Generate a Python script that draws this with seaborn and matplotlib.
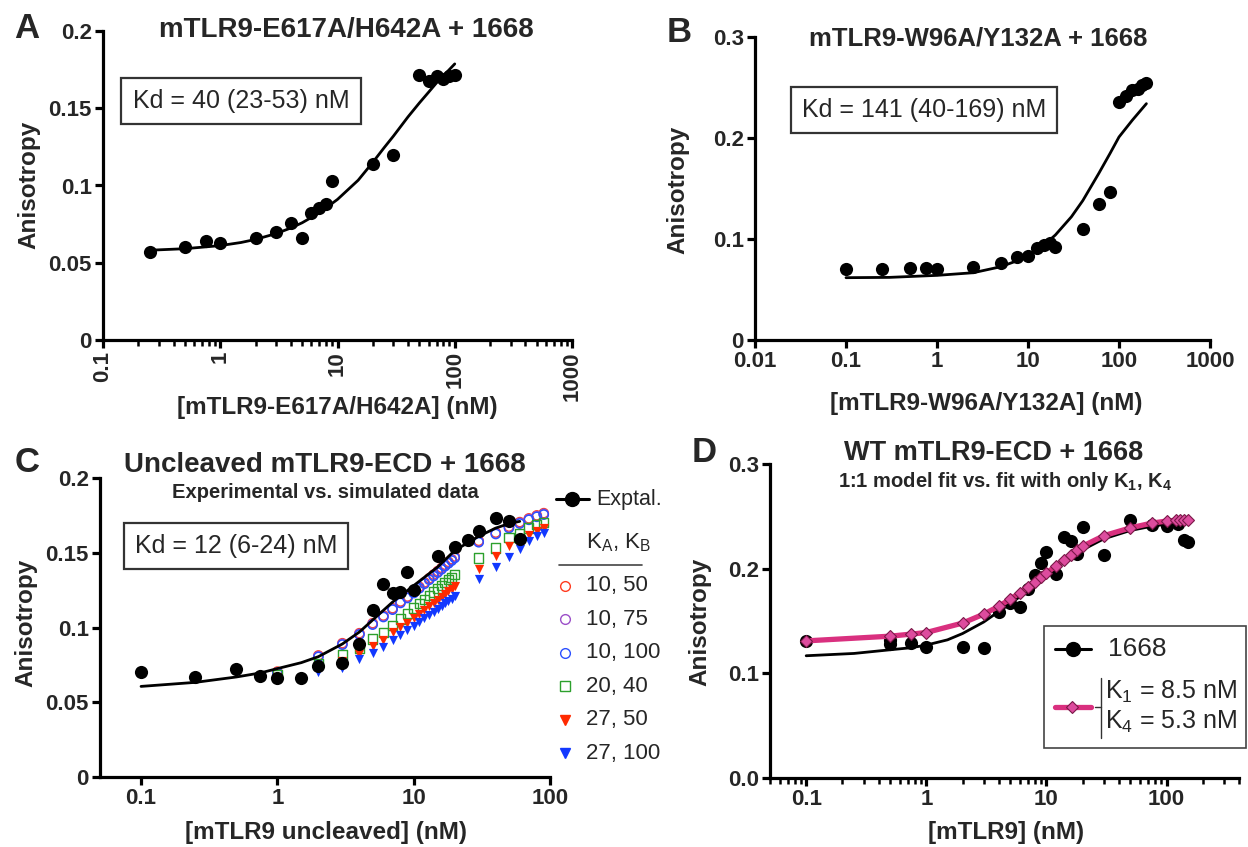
import matplotlib
matplotlib.use("Agg")

import matplotlib.pyplot as plt
from matplotlib.lines import Line2D
from matplotlib.patches import Rectangle
from matplotlib.ticker import LogLocator, NullFormatter, NullLocator
import seaborn as sns

sns.set_theme(style="ticks")
plt.rcParams["font.family"] = ["Liberation Sans", "DejaVu Sans"]
plt.rcParams["mathtext.fontset"] = "custom"
plt.rcParams["mathtext.rm"] = "Liberation Sans"
plt.rcParams["mathtext.it"] = "Liberation Sans:italic"
plt.rcParams["mathtext.bf"] = "Liberation Sans:bold"

# ---- panel A: mTLR9-E617A/H642A ----
a_conc = [0.25, 0.5, 0.75, 1, 2, 3, 4, 5, 6, 7, 8, 9, 20, 30,
          50, 60, 70, 80, 90, 100]
a_aniso = [0.057, 0.060, 0.064, 0.063, 0.066, 0.070, 0.0757, 0.066, 0.082,
           0.0854, 0.088, 0.1026, 0.1138, 0.120,
           0.1713, 0.1674, 0.171, 0.169, 0.1706, 0.1717]
a_fit_x = [0.25, 0.5, 1, 1.5, 2, 3, 4, 5, 7, 10, 15, 20, 25, 30, 40, 50,
           60, 70, 80, 100]
a_fit_y = [0.0581, 0.0591, 0.0611, 0.0631, 0.0651, 0.0689, 0.0725, 0.0759,
           0.0823, 0.091, 0.1034, 0.115, 0.1245, 0.132, 0.1445, 0.1535,
           0.1605, 0.1665, 0.171, 0.1787]

# ---- panel B: mTLR9-W96A/Y132A ----
b_conc = [0.1, 0.25, 0.5, 0.75, 1, 2.5, 5, 7.5, 10, 12.5, 15, 17.5, 20,
          40, 60, 80, 100, 120, 140, 160, 180, 200]
b_aniso = [0.070, 0.070, 0.0709, 0.071, 0.070, 0.0719, 0.0758, 0.0818,
           0.0834, 0.0907, 0.094, 0.096, 0.0917, 0.110, 0.135, 0.1467,
           0.2357, 0.2413, 0.248, 0.249, 0.2522, 0.254]
b_fit_x = [0.1, 0.3, 1, 2.5, 5, 10, 15, 20, 30, 40, 60, 80, 100, 140, 200]
b_fit_y = [0.0617, 0.062, 0.064, 0.0666, 0.0725, 0.0824, 0.094, 0.104,
           0.122, 0.138, 0.165, 0.185, 0.201, 0.2176, 0.234]

# ---- panel C: uncleaved mTLR9-ECD, experimental + simulated ----
c_conc = [0.1, 0.25, 0.5, 0.75, 1, 1.5, 2, 3, 4, 5, 6, 7, 8, 9, 10, 15,
          20, 25, 30, 40, 50, 60]
c_aniso = [0.0702, 0.0669, 0.0725, 0.0673, 0.0662, 0.0662, 0.074, 0.0763,
           0.0892, 0.1114, 0.129, 0.123, 0.124, 0.1369, 0.1253, 0.148,
           0.1538, 0.1588, 0.1643, 0.1732, 0.171, 0.1592]
c_fit_x = [0.1, 0.25, 0.5, 0.75, 1, 1.5, 2, 3, 4, 5, 7, 10, 15, 20, 30,
           40, 50, 60]
c_fit_y = [0.0606, 0.0633, 0.0669, 0.0696, 0.0725, 0.0765, 0.0805, 0.089,
           0.097, 0.105, 0.117, 0.128, 0.1405, 0.1515, 0.161, 0.1665,
           0.1695, 0.171]

sim_conc = [1, 2, 3, 4, 5, 6, 7, 8, 9, 10, 11, 12, 13, 14, 15, 16, 17, 18,
            19, 20, 30, 40, 50, 60, 70, 80, 90]
sim_10_50 = [0.0705, 0.0813, 0.0895, 0.0962, 0.1029, 0.108, 0.1129, 0.1174,
             0.1207, 0.124, 0.1272, 0.1302, 0.1329, 0.1354, 0.1377, 0.1399,
             0.142, 0.1439, 0.1457, 0.1475, 0.158, 0.1635, 0.1675, 0.1705,
             0.173, 0.175, 0.1765]
sim_10_75 = [0.07, 0.0808, 0.089, 0.0957, 0.1024, 0.1075, 0.1124, 0.1169,
             0.1202, 0.1235, 0.1267, 0.1297, 0.1324, 0.1349, 0.1372, 0.1394,
             0.1415, 0.1434, 0.1452, 0.147, 0.1575, 0.163, 0.167, 0.17,
             0.1725, 0.1745, 0.176]
sim_10_100 = [0.0695, 0.0803, 0.0885, 0.0952, 0.1019, 0.107, 0.1119, 0.1164,
              0.1197, 0.123, 0.1262, 0.1292, 0.1319, 0.1344, 0.1367, 0.1389,
              0.141, 0.1429, 0.1447, 0.1465, 0.157, 0.1625, 0.1665, 0.1695,
              0.172, 0.174, 0.1755]
sim_20_40 = [0.0684, 0.0757, 0.0818, 0.0863, 0.0923, 0.0967, 0.1012, 0.1057,
             0.1092, 0.113, 0.1161, 0.1189, 0.1214, 0.1238, 0.126, 0.1281,
             0.130, 0.1319, 0.1336, 0.1353, 0.1465, 0.1532, 0.160, 0.163,
             0.1666, 0.1688, 0.170]
sim_27_50 = [0.067, 0.0725, 0.0775, 0.0825, 0.0878, 0.0918, 0.0967, 0.1003,
             0.103, 0.1063, 0.1092, 0.1119, 0.1143, 0.1166, 0.1187, 0.1207,
             0.1225, 0.1243, 0.1259, 0.1275, 0.139, 0.1476, 0.1543, 0.158,
             0.162, 0.1643, 0.1665]
sim_27_100 = [0.066, 0.070, 0.073, 0.079, 0.0829, 0.087, 0.0918, 0.0952,
              0.0985, 0.1012, 0.1039, 0.1064, 0.1086, 0.1107, 0.1127, 0.1145,
              0.1162, 0.1178, 0.1193, 0.1208, 0.1324, 0.1405, 0.1472, 0.1525,
              0.1576, 0.161, 0.1632]
sim_labels = ["10, 50", "10, 75", "10, 100", "20, 40", "27, 50", "27, 100"]
sim_colors = ["#ff3b1f", "#9b4fc8", "#2b50ff", "#2ca02c", "#ff2a00", "#1238ff"]
sim_markers = ["o", "o", "o", "s", "v", "v"]
sim_hollow = [True, True, True, True, False, False]

# ---- panel D: WT mTLR9-ECD ----
d_conc = [0.1, 0.5, 0.5, 0.75, 1, 2, 3, 4, 5, 6, 7, 8, 9, 10, 12, 14, 16,
          18, 20, 30, 50, 75, 100, 125, 140, 150]
d_aniso = [0.1306, 0.132, 0.1285, 0.129, 0.1252, 0.1252, 0.1242, 0.1586,
           0.1672, 0.1634, 0.1806, 0.1942, 0.2054, 0.2156, 0.1952, 0.2303,
           0.2261, 0.2143, 0.2395, 0.2134, 0.2462, 0.242, 0.2404, 0.243,
           0.2277, 0.2251]
d_fit_x = [0.1, 0.25, 0.5, 0.75, 1, 1.5, 2, 3, 4, 5, 7, 10, 15, 20, 30, 50,
           75, 100, 150]
d_fit_y = [0.1168, 0.119, 0.1225, 0.1245, 0.127, 0.132, 0.138, 0.149, 0.159,
           0.1665, 0.179, 0.1935, 0.2085, 0.218, 0.2285, 0.2365, 0.2405,
           0.2425, 0.244]
k_conc = [0.1, 0.5, 0.75, 1, 2, 3, 4, 5, 6, 7, 8, 9, 10, 12, 14, 16, 18, 20,
          30, 50, 75, 100, 120, 130, 140, 150]
k_aniso = [0.131, 0.1355, 0.1375, 0.139, 0.148, 0.1565, 0.164, 0.171, 0.177,
           0.1825, 0.1875, 0.192, 0.196, 0.2025, 0.2085, 0.2135, 0.2175,
           0.2215, 0.2315, 0.239, 0.2435, 0.2455, 0.2462, 0.2465, 0.2467,
           0.2468]

PINK = "#d9307f"
DOT = 90
W, H = 1248, 847
fig = plt.figure(figsize=(W / 100, H / 100), dpi=100)


def rect(l, t, r, b):
    return [l / W, 1 - b / H, (r - l) / W, (b - t) / H]


def put(x, y, s, **kw):
    kw.setdefault("ha", "center")
    kw.setdefault("va", "center")
    return fig.text(x / W, 1 - y / H, s, **kw)


def key(xs, y, **kw):
    fig.add_artist(Line2D([x / W for x in xs], [1 - y / H] * len(xs),
                          transform=fig.transFigure, **kw))


def style(ax, xlim, xticks, xlabels, ylim, yticks, ylabels, minor=False, rot=0):
    ax.set_xscale("log")
    ax.set_xlim(*xlim)
    ax.set_ylim(*ylim)
    ax.set_xticks(xticks, labels=xlabels, rotation=rot, fontweight="bold", fontsize=16)
    ax.set_yticks(yticks, labels=ylabels, fontweight="bold", fontsize=16)
    if minor:
        ax.xaxis.set_minor_locator(LogLocator(base=10, subs=range(2, 10), numticks=30))
        ax.xaxis.set_minor_formatter(NullFormatter())
    else:
        ax.xaxis.set_minor_locator(NullLocator())
    ax.yaxis.set_minor_locator(NullLocator())
    sns.despine(ax=ax)
    for sp in ("left", "bottom"):
        ax.spines[sp].set_linewidth(2.3)
        ax.spines[sp].set_color("black")
    ax.tick_params(which="major", length=6, width=2.3, color="black", pad=2)
    ax.tick_params(which="minor", length=4, width=1.8, color="black")
    ax.set_xlabel("")
    ax.set_ylabel("")
    ax.set_facecolor("none")


kd_box = dict(boxstyle="square,pad=0.45", fc="white", ec="#333333", lw=1.6)

# ---------------- A ----------------
ax = fig.add_axes(rect(103, 31, 572, 340))
sns.lineplot(x=a_fit_x, y=a_fit_y, ax=ax, color="black", lw=2, estimator=None, sort=False)
sns.scatterplot(x=a_conc, y=a_aniso, ax=ax, color="black", s=DOT, linewidth=0, zorder=3)
style(ax, (0.1, 1000), [0.1, 1, 10, 100, 1000], ["0.1", "1", "10", "100", "1000"],
      (0, 0.2), [0, 0.05, 0.1, 0.15, 0.2], ["0", "0.05", "0.1", "0.15", "0.2"],
      minor=True, rot=90)
put(27, 28, "A", fontsize=25, fontweight="bold")
put(346, 30, "mTLR9-E617A/H642A + 1668", fontsize=20, fontweight="bold")
put(29, 185, "Anisotropy", fontsize=17.5, fontweight="bold", rotation=90)
put(337, 407, "[mTLR9-E617A/H642A] (nM)", fontsize=17.5, fontweight="bold")
put(241, 101, "Kd = 40 (23-53) nM", fontsize=18, bbox=kd_box)

# ---------------- B ----------------
ax = fig.add_axes(rect(755, 37, 1210, 340))
sns.lineplot(x=b_fit_x, y=b_fit_y, ax=ax, color="black", lw=2, estimator=None, sort=False)
sns.scatterplot(x=b_conc, y=b_aniso, ax=ax, color="black", s=DOT, linewidth=0, zorder=3)
style(ax, (0.01, 1000), [0.01, 0.1, 1, 10, 100, 1000],
      ["0.01", "0.1", "1", "10", "100", "1000"],
      (0, 0.3), [0, 0.1, 0.2, 0.3], ["0", "0.1", "0.2", "0.3"])
put(679, 32, "B", fontsize=25, fontweight="bold")
put(978, 38, "mTLR9-W96A/Y132A + 1668", fontsize=18.5, fontweight="bold")
put(678, 190, "Anisotropy", fontsize=17.5, fontweight="bold", rotation=90)
put(986, 403, "[mTLR9-W96A/Y132A] (nM)", fontsize=17.5, fontweight="bold")
put(924, 110, "Kd = 141 (40-169) nM", fontsize=18, bbox=kd_box)

# ---------------- C ----------------
ax = fig.add_axes(rect(100, 478, 550, 777))
sims = [sim_10_50, sim_10_75, sim_10_100, sim_20_40, sim_27_50, sim_27_100]
for vals, col, mk, hollow in zip(sims, sim_colors, sim_markers, sim_hollow):
    if hollow:
        sns.scatterplot(x=sim_conc, y=vals, ax=ax, marker=mk, s=44,
                        facecolor="none", edgecolor=col, linewidth=1.0, zorder=2)
    else:
        sns.scatterplot(x=sim_conc, y=vals, ax=ax, marker=mk, s=44,
                        color=col, linewidth=0, zorder=2)
sns.scatterplot(x=c_conc, y=c_aniso, ax=ax, color="black", s=DOT, linewidth=0, zorder=3)
sns.lineplot(x=c_fit_x, y=c_fit_y, ax=ax, color="black", lw=2, estimator=None,
             sort=False, zorder=4)
style(ax, (0.05, 100), [0.1, 1, 10, 100], ["0.1", "1", "10", "100"],
      (0, 0.2), [0, 0.05, 0.1, 0.15, 0.2], ["0", "0.05", "0.1", "0.15", "0.2"])
put(27, 462, "C", fontsize=25, fontweight="bold")
put(325, 465, "Uncleaved mTLR9-ECD + 1668", fontsize=20, fontweight="bold")
put(325, 492, "Experimental vs. simulated data", fontsize=14.5, fontweight="bold")
put(26, 623, "Anisotropy", fontsize=17.5, fontweight="bold", rotation=90)
put(326, 832, "[mTLR9 uncleaved] (nM)", fontsize=17.5, fontweight="bold")
put(236, 546, "Kd = 12 (6-24) nM", fontsize=18, bbox=kd_box)

# legend of panel C (drawn by hand, outside the axes)
key([556, 589], 499, color="black", lw=2.2)
key([572], 499, marker="o", ms=10, color="black", ls="none")
put(596, 499, "Exptal.", fontsize=15.5, ha="left")
put(586, 543, "K$_\\mathregular{A}$, K$_\\mathregular{B}$", fontsize=16, ha="left")
key([559, 642], 565, color="#444444", lw=1.2)
for i, (lab, col, mk, hollow) in enumerate(zip(sim_labels, sim_colors, sim_markers, sim_hollow)):
    y = 586 + i * 33.4
    key([565], y, marker=mk, ms=7 if mk != "v" else 7.5, ls="none",
        mfc="none" if hollow else col, mec=col, mew=1.0)
    put(586, y, lab, fontsize=16, ha="left")

# ---------------- D ----------------
ax = fig.add_axes(rect(770, 464, 1239, 778))
sns.lineplot(x=d_fit_x, y=d_fit_y, ax=ax, color="black", lw=2, estimator=None, sort=False)
sns.scatterplot(x=d_conc, y=d_aniso, ax=ax, color="black", s=DOT, linewidth=0, zorder=3)
sns.lineplot(x=k_conc, y=k_aniso, ax=ax, color=PINK, lw=3.8, estimator=None, sort=False,
             marker="D", markersize=6, markerfacecolor="#dd4c9e",
             markeredgecolor="#7a1848", markeredgewidth=0.8, zorder=4)
style(ax, (0.05, 400), [0.1, 1, 10, 100], ["0.1", "1", "10", "100"],
      (0, 0.3), [0, 0.1, 0.2, 0.3], ["0.0", "0.1", "0.2", "0.3"], minor=True)
put(704, 452, "D", fontsize=25, fontweight="bold")
put(994, 453, "WT mTLR9-ECD + 1668", fontsize=19.5, fontweight="bold")
put(1005, 481, "1:1 model fit vs. fit with only K$_\\mathbf{1}$, K$_\\mathbf{4}$",
    fontsize=14.5, fontweight="bold")
put(700, 622, "Anisotropy", fontsize=17.5, fontweight="bold", rotation=90)
put(1006, 832, "[mTLR9] (nM)", fontsize=17.5, fontweight="bold")

# legend of panel D (drawn by hand)
fig.add_artist(Rectangle((1044 / W, 1 - 748 / H), (1246 - 1044) / W, (748 - 626) / H,
                         transform=fig.transFigure, fc="white", ec="#444444", lw=1.2,
                         zorder=5))
key([1055, 1091], 649, color="black", lw=2.2, zorder=6)
key([1073], 649, marker="o", ms=10, color="black", ls="none", zorder=6)
put(1108, 649, "1668", fontsize=19, ha="left", zorder=6)
key([1055, 1091], 707, color=PINK, lw=3.8, zorder=6)
key([1072], 707, marker="D", ms=6, mfc="#dd4c9e", mec="#7a1848", mew=0.8,
    ls="none", zorder=6)
key([1095, 1101], 707, color="#333333", lw=1, zorder=6)
fig.add_artist(Line2D([1101 / W, 1101 / W], [1 - 678 / H, 1 - 738 / H],
                      transform=fig.transFigure, color="#333333", lw=1, zorder=6))
put(1105, 692, "K$_\\mathregular{1}$ = 8.5 nM", fontsize=18, ha="left", zorder=6)
put(1105, 722, "K$_\\mathregular{4}$ = 5.3 nM", fontsize=18, ha="left", zorder=6)

fig.savefig("out.png", dpi=100)
